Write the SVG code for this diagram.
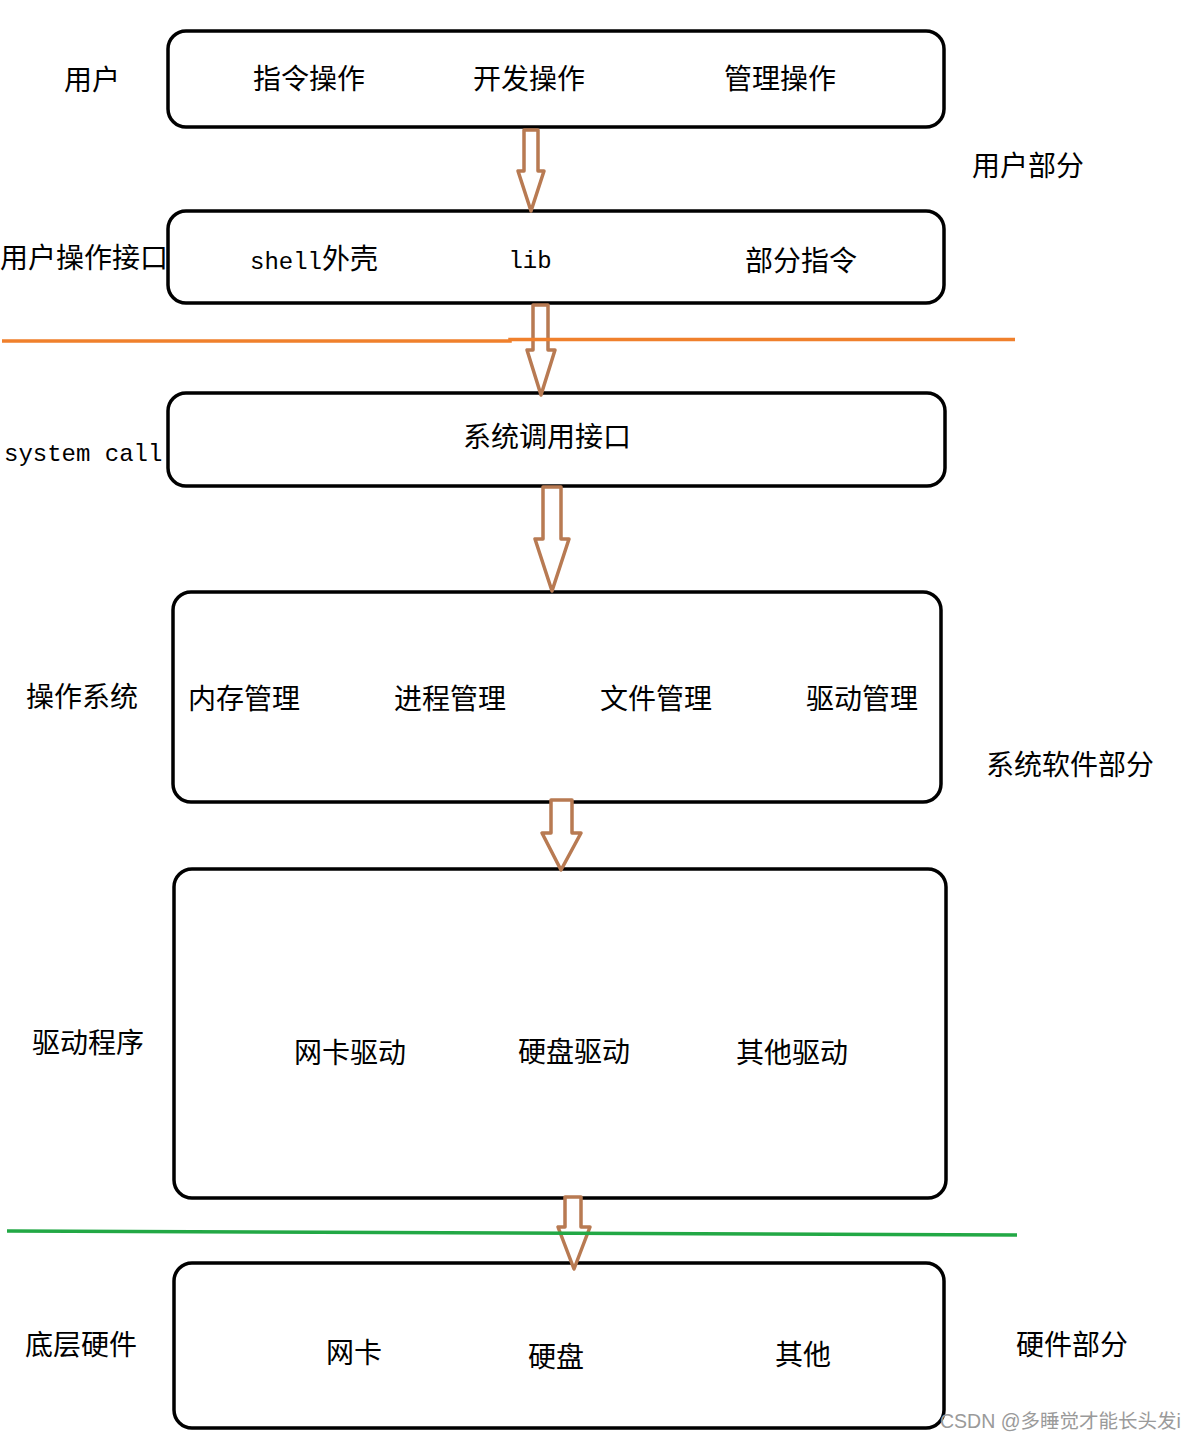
<svg xmlns="http://www.w3.org/2000/svg" width="1191" height="1440" viewBox="0 0 1191 1440">
<style>
.box{fill:#fff;stroke:#000;stroke-width:3.5}
.t{font-family:"Noto Sans CJK SC","Liberation Serif",serif;font-size:28px;fill:#000;text-anchor:middle}
.l{text-anchor:start}
.m{font-family:"Liberation Mono","Noto Sans CJK SC",monospace;font-size:24px}
.arr{fill:#fff;stroke:#b87a52;stroke-width:3.5;stroke-linejoin:round}
.wm{font-family:"Liberation Sans","Noto Sans CJK SC",sans-serif;font-size:19.5px;fill:#9a9a9a}
</style>
<rect width="1191" height="1440" fill="#fff"/>
<g id="n1"><rect class="box" x="168" y="31" width="776" height="96" rx="18"/>
<text class="t" x="309" y="89">指令操作</text><text class="t" x="529" y="89">开发操作</text><text class="t" x="780" y="89">管理操作</text></g>
<g id="n2"><rect class="box" x="168" y="211" width="776" height="92" rx="18"/>
<text class="t l" x="250" y="269"><tspan class="m">shell</tspan>外壳</text><text class="t m" x="530" y="268">lib</text><text class="t" x="801" y="271">部分指令</text></g>
<g id="n3"><rect class="box" x="168" y="393" width="777" height="93" rx="18"/>
<text class="t" x="547" y="447">系统调用接口</text></g>
<g id="n4"><rect class="box" x="173" y="592" width="768" height="210" rx="18"/>
<text class="t" x="244" y="709">内存管理</text><text class="t" x="450" y="709">进程管理</text><text class="t" x="656" y="709">文件管理</text><text class="t" x="862" y="709">驱动管理</text></g>
<g id="n5"><rect class="box" x="174" y="869" width="772" height="329" rx="18"/>
<text class="t" x="350" y="1063">网卡驱动</text><text class="t" x="574" y="1062">硬盘驱动</text><text class="t" x="792" y="1063">其他驱动</text></g>
<g id="n6"><rect class="box" x="174" y="1263" width="770" height="165" rx="18"/>
<text class="t" x="354" y="1363">网卡</text><text class="t" x="556" y="1367">硬盘</text><text class="t" x="803" y="1365">其他</text></g>
<g id="labels">
<text class="t" x="92" y="90">用户</text>
<text class="t" x="1028" y="176">用户部分</text>
<text class="t l" x="0" y="268">用户操作接口</text>
<text class="t l m" x="4" y="461">system call</text>
<text class="t" x="82" y="707">操作系统</text>
<text class="t" x="1070" y="775">系统软件部分</text>
<text class="t" x="88" y="1053">驱动程序</text>
<text class="t" x="81" y="1355">底层硬件</text>
<text class="t" x="1072" y="1355">硬件部分</text>
</g>
<g id="connectors">
<path class="arr" d="M524,130 L538,130 L538,171 L544,171 L531,211 L518,171 L524,171 Z"/>
<path class="arr" d="M533,305 L548,305 L548,350 L555,350 L541,395 L527,350 L533,350 Z"/>
<path class="arr" d="M543,487 L561,487 L561,539 L569,539 L552,591 L535,539 L543,539 Z"/>
<path class="arr" d="M551,800 L572,800 L572,833 L581,833 L561,870 L542,833 L551,833 Z"/>
<path class="arr" d="M565,1197 L581,1197 L581,1227 L590,1227 L574,1269 L558,1227 L565,1227 Z"/>
<path d="M2,341 L510,341 L510,339.5 L1015,339.5" fill="none" stroke="#f0802c" stroke-width="3.5"/>
<path d="M7,1231 L1017,1235" fill="none" stroke="#22a845" stroke-width="3.5"/>
</g>
<text class="wm" x="940" y="1428">CSDN @多睡觉才能长头发i</text>
</svg>
